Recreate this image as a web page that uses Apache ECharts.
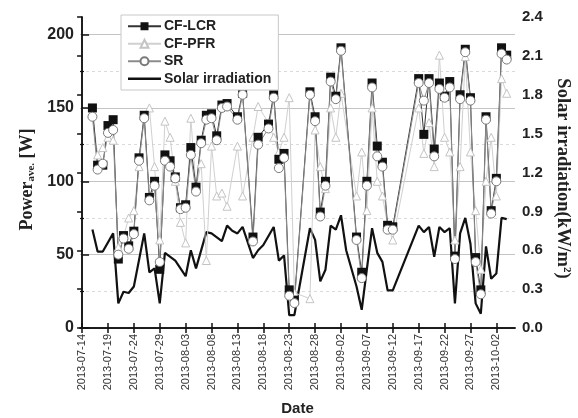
<!DOCTYPE html>
<html><head><meta charset="utf-8">
<script src="https://cdn.jsdelivr.net/npm/echarts@6/dist/echarts.min.js"></script>
<style>html,body{margin:0;padding:0;background:#fff}#c{width:578px;height:418px}</style>
</head><body><div id="c"></div>
<script>
const startDate = '2013-07-14';
const xTickLabels = ['2013-07-14','2013-07-19','2013-07-24','2013-07-29','2013-08-03','2013-08-08','2013-08-13','2013-08-18','2013-08-23','2013-08-28','2013-09-02','2013-09-07','2013-09-12','2013-09-17','2013-09-22','2013-09-27','2013-10-02'];
const leftTicks = [0,50,100,150,200];
const leftMinorTicks = [25,75,125,175];

const powerDates = ['2013-07-16','2013-07-17','2013-07-18','2013-07-19','2013-07-20','2013-07-21','2013-07-22','2013-07-23','2013-07-24','2013-07-25','2013-07-26','2013-07-27','2013-07-28','2013-07-29','2013-07-30','2013-07-31','2013-08-01','2013-08-02','2013-08-03','2013-08-04','2013-08-05','2013-08-06','2013-08-07','2013-08-08','2013-08-09','2013-08-10','2013-08-11','2013-08-13','2013-08-14','2013-08-16','2013-08-17','2013-08-19','2013-08-20','2013-08-21','2013-08-22','2013-08-23','2013-08-24','2013-08-27','2013-08-28','2013-08-29','2013-08-30','2013-08-31','2013-09-01','2013-09-02','2013-09-05','2013-09-06','2013-09-07','2013-09-08','2013-09-09','2013-09-10','2013-09-11','2013-09-12','2013-09-17','2013-09-18','2013-09-19','2013-09-20','2013-09-21','2013-09-22','2013-09-23','2013-09-24','2013-09-25','2013-09-26','2013-09-27','2013-09-28','2013-09-29','2013-09-30','2013-10-01','2013-10-02','2013-10-03','2013-10-04'];
const cfLcr = [150,111,111,138,142,47,63,56,66,116,145,89,100,40,118,114,103,82,84,123,96,128,145,146,131,152,153,144,160,62,130,139,159,115,119,26,19,161,144,79,100,171,158,191,62,38,100,167,124,113,70,69,170,132,170,122,167,158,168,49,159,190,157,48,26,144,80,102,191,186];
const cfPfr = [146,118,123,130,128,55,62,75,80,110,145,150,110,60,141,130,100,72,58,143,96,112,46,124,90,92,83,124,90,130,151,140,130,120,130,157,24,20,135,110,95,150,130,160,90,120,80,150,100,90,70,60,150,119,140,110,186,130,120,60,110,185,120,80,40,100,130,90,170,160];
const srValues = [144,108,112,133,135,50,61,54,64,114,143,87,97,45,114,110,102,81,82,118,93,126,142,143,128,150,151,142,159,59,125,136,157,109,116,22,17,159,141,76,97,168,156,189,60,34,97,164,117,110,67,67,167,155,167,117,163,157,164,47,156,188,155,45,23,142,78,100,187,183];

const solarDates = ['2013-07-16','2013-07-17','2013-07-18','2013-07-20','2013-07-21','2013-07-22','2013-07-23','2013-07-24','2013-07-26','2013-07-27','2013-07-28','2013-07-29','2013-07-30','2013-08-01','2013-08-03','2013-08-04','2013-08-05','2013-08-07','2013-08-08','2013-08-10','2013-08-11','2013-08-12','2013-08-13','2013-08-14','2013-08-16','2013-08-17','2013-08-18','2013-08-20','2013-08-21','2013-08-22','2013-08-23','2013-08-24','2013-08-27','2013-08-28','2013-08-29','2013-08-30','2013-08-31','2013-09-01','2013-09-02','2013-09-03','2013-09-05','2013-09-06','2013-09-08','2013-09-09','2013-09-10','2013-09-11','2013-09-12','2013-09-17','2013-09-18','2013-09-19','2013-09-20','2013-09-21','2013-09-22','2013-09-23','2013-09-24','2013-09-25','2013-09-26','2013-09-27','2013-09-28','2013-09-29','2013-09-30','2013-10-01','2013-10-02','2013-10-03','2013-10-04'];
const solarValues = [0.76,0.59,0.59,0.73,0.19,0.28,0.27,0.32,0.73,0.43,0.46,0.19,0.58,0.52,0.40,0.60,0.46,0.74,0.73,0.67,0.79,0.75,0.73,0.78,0.54,0.60,0.64,0.78,0.52,0.56,0.10,0.10,0.77,0.68,0.36,0.45,0.79,0.76,0.87,0.60,0.32,0.14,0.77,0.58,0.51,0.29,0.29,0.79,0.74,0.78,0.55,0.78,0.74,0.77,0.19,0.73,0.85,0.65,0.19,0.11,0.63,0.38,0.42,0.85,0.84];

const DAY = 86400000;
const dayOf = s => (Date.parse(s) - Date.parse(startDate)) / DAY;
const pairs = (dates, vals) => dates.map((d, i) => [dayOf(d), vals[i]]);
const tickDays = xTickLabels.map(dayOf);
const labelFor = v => { const i = tickDays.indexOf(Math.round(v)); return i >= 0 ? xTickLabels[i] : ''; };

const chart = echarts.init(document.getElementById('c'), null, {renderer: 'canvas'});
const sans = 'Liberation Sans, Arial, sans-serif';
const serif = 'Liberation Serif, Times New Roman, serif';
chart.setOption({
  animation: false,
  backgroundColor: '#fff',
  grid: {left: 80, right: 63, top: 17, bottom: 90, containLabel: false, outerBoundsMode: 'none'},
  legend: {
    orient: 'vertical', left: 121, top: 15,
    data: ['CF-LCR', 'CF-PFR', 'SR', {name: 'Solar irradiation', icon: 'path://M0,0H33V2.3H0Z'}],
    itemWidth: 33, itemHeight: 10, itemGap: 3,
    padding: [4, 7, 4, 6],
    backgroundColor: '#fff', borderColor: '#c8c8c8', borderWidth: 1,
    textStyle: {fontFamily: sans, fontWeight: 'bold', fontSize: 14, lineHeight: 14.5, color: '#222', padding: [0,0,0,-2]}
  },
  xAxis: [{
    type: 'value', min: -0.4, max: 83.6, position: 'bottom',
    name: 'Date', nameLocation: 'middle', nameGap: 73,
    nameTextStyle: {fontFamily: sans, fontWeight: 'bold', fontSize: 15, color: '#222'},
    axisLine: {lineStyle: {color: '#111', width: 1.5}},
    axisTick: {inside: true, length: 5, customValues: tickDays, lineStyle: {color: '#111', width: 1.5}},
    axisLabel: {customValues: tickDays, rotate: 90, formatter: labelFor, fontFamily: sans, fontSize: 11, color: '#333', margin: 6},
    splitLine: {show: false}
  }, {
    type: 'value', min: -0.4, max: 83.6, position: 'top',
    axisLine: {lineStyle: {color: '#111', width: 1.5}},
    axisTick: {inside: true, length: 5, customValues: tickDays, lineStyle: {color: '#111', width: 1.5}},
    axisLabel: {show: false}, splitLine: {show: false}
  }],
  yAxis: [{
    type: 'value', min: 0, max: 212, position: 'left',
    name: '{a|Power}{b|ave.}{a| [W]}', nameLocation: 'middle', nameGap: 40,
    nameTextStyle: {padding: [0, 14, 0, 0], rich: {
      a: {fontFamily: serif, fontWeight: 'bold', fontSize: 18, color: '#222'},
      b: {fontFamily: serif, fontWeight: 'bold', fontSize: 11, color: '#222', verticalAlign: 'bottom'}
    }},
    axisLine: {show: true, lineStyle: {color: '#111', width: 1.5}},
    axisTick: {inside: true, length: 7, customValues: leftTicks, lineStyle: {color: '#111', width: 1.5}},
    axisLabel: {customValues: leftTicks, fontFamily: sans, fontWeight: 'bold', fontSize: 16, color: '#222', margin: 6},
    splitLine: {show: true, lineStyle: {color: '#c4c4c4', width: 1}}
  }, {
    type: 'value', min: 0, max: 2.4, interval: 0.3, position: 'right',
    name: 'Solar irradiation(kW/m{s|2})', nameLocation: 'middle', nameGap: 30, nameRotate: -90,
    nameTextStyle: {fontFamily: serif, fontWeight: 'bold', fontSize: 18.5, color: '#222', padding: [0, 0, 0, 12], rich: {
      s: {fontFamily: serif, fontWeight: 'bold', fontSize: 11, color: '#222', verticalAlign: 'top'}
    }},
    axisLine: {show: true, lineStyle: {color: '#111', width: 1.5}},
    axisTick: {inside: true, length: 5, lineStyle: {color: '#111', width: 1.5}},
    axisLabel: {formatter: v => v.toFixed(1), fontFamily: sans, fontWeight: 'bold', fontSize: 15, color: '#222', margin: 7},
    splitLine: {show: false}
  }, {
    type: 'value', min: 0, max: 212, position: 'left',
    axisLine: {show: false},
    axisTick: {show: true, inside: true, length: 4, customValues: leftMinorTicks, lineStyle: {color: '#111', width: 1.2}},
    axisLabel: {show: false},
    splitLine: {show: true, lineStyle: {color: '#dadada', width: 1, type: [3, 3]}}
  }],
  series: [{
    name: 'Solar irradiation', type: 'line', yAxisIndex: 1,
    data: pairs(solarDates, solarValues), symbol: 'none',
    lineStyle: {color: '#111', width: 2.2}, itemStyle: {color: '#111'}
  }, {
    name: 'CF-PFR', type: 'line', data: pairs(powerDates, cfPfr),
    symbol: 'triangle', symbolSize: 8, showAllSymbol: true,
    lineStyle: {color: '#d0d0d0', width: 1},
    itemStyle: {color: '#fff', borderColor: '#c4c4c4', borderWidth: 1}
  }, {
    name: 'CF-LCR', type: 'line', data: pairs(powerDates, cfLcr),
    symbol: 'rect', symbolSize: 9, showAllSymbol: true,
    lineStyle: {color: '#333', width: 1},
    itemStyle: {color: '#111'}
  }, {
    name: 'SR', type: 'line', data: pairs(powerDates, srValues),
    symbol: 'circle', symbolSize: 9, showAllSymbol: true,
    lineStyle: {color: '#8c8c8c', width: 1},
    itemStyle: {color: '#fff', borderColor: '#7a7a7a', borderWidth: 1}
  }]
});
</script></body></html>
